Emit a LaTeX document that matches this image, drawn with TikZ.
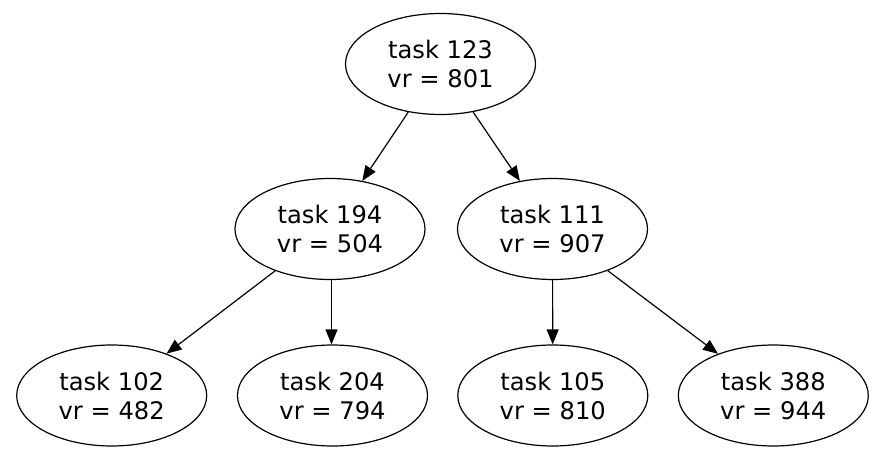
\documentclass[tikz,border=0pt]{standalone}
\usepackage{fontspec}
\setmainfont{DejaVu Sans}
\usetikzlibrary{shapes.geometric,arrows.meta}
\begin{document}
\begin{tikzpicture}[x=1pt,y=-1pt,
  task/.style={draw, ellipse, line width=1.2pt, minimum width=190pt, minimum height=101pt, inner sep=0pt, align=center, font=\fontsize{24.2pt}{29pt}\selectfont},
  edge/.style={line width=1.2pt, -{Triangle[length=15pt,width=12pt]}}]
\useasboundingbox (0,0) rectangle (895,468);
\node[task] (n123) at (440.5,64) {task 123\\vr = 801};
\node[task] (n194) at (330,229) {task 194\\vr = 504};
\node[task] (n111) at (552.5,229) {task 111\\vr = 907};
\node[task] (n102) at (111.7,395.5) {task 102\\vr = 482};
\node[task] (n204) at (332.5,395.5) {task 204\\vr = 794};
\node[task] (n105) at (552.8,395.5) {task 105\\vr = 810};
\node[task] (n388) at (773.3,395.5) {task 388\\vr = 944};
\draw[edge] (n123) -- (n194);
\draw[edge] (n123) -- (n111);
\draw[edge] (n194) -- (n102);
\draw[edge] (n194.south -| 331.5,0) -- (n204.north -| 331.5,0);
\draw[edge] (n111) -- (n105);
\draw[edge] (n111) -- (n388);
\end{tikzpicture}
\end{document}
